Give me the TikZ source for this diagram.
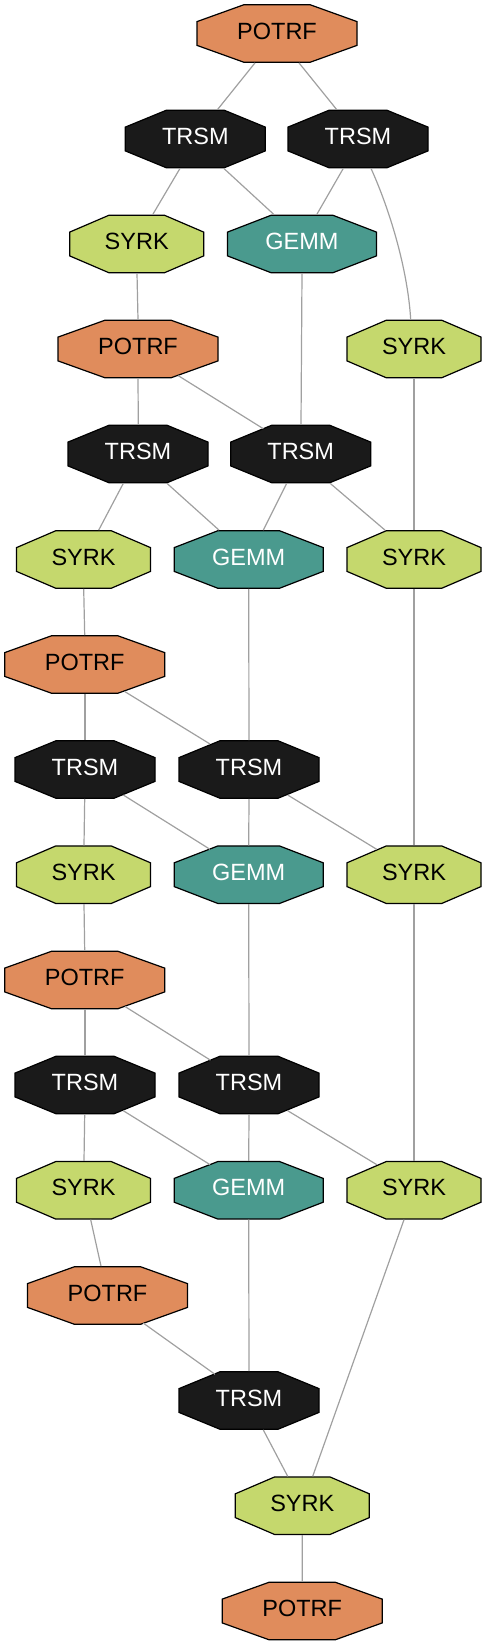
\documentclass[tikz,border=0pt]{standalone}
\usepackage{fontspec}
\setmainfont{Liberation Sans}
\usetikzlibrary{calc}
\definecolor{cpotrf}{HTML}{E08C5C}
\definecolor{csyrk}{HTML}{C5D86D}
\definecolor{cgemm}{HTML}{4A9A8E}
\definecolor{ctrsm}{HTML}{1A1A1A}
\definecolor{cedge}{HTML}{A0A0A0}
\tikzset{
  octline/.style={draw=black, line width=1.2pt, line join=miter},
  lbl/.style={inner sep=0pt, font=\fontsize{23.5}{26}\selectfont},
  edge/.style={draw=cedge, line width=1.2pt},
}
% #1 name, #2 x, #3 y, #4 width, #5 fill, #6 text colour, #7 text
\newcommand\octnode[7]{%
  \path[octline, fill=#5]
    ({#2-#4/2},{#3-11.9}) -- ({#2-0.2071*#4},{#3-28.75}) --
    ({#2+0.2071*#4},{#3-28.75}) -- ({#2+#4/2},{#3-11.9}) --
    ({#2+#4/2},{#3+11.9}) -- ({#2+0.2071*#4},{#3+28.75}) --
    ({#2-0.2071*#4},{#3+28.75}) -- ({#2-#4/2},{#3+11.9}) -- cycle;
  \coordinate (#1) at (#2,#3);
  \node[lbl, text=#6] (#1-t) at (#2,{#3-2.5}) {#7};}
\newcommand\potrf[3]{\octnode{#1}{#2}{#3}{160}{cpotrf}{black}{POTRF}}
\newcommand\trsm[3]{\octnode{#1}{#2}{#3}{140}{ctrsm}{white}{TRSM}}
\newcommand\syrk[3]{\octnode{#1}{#2}{#3}{134}{csyrk}{black}{SYRK}}
\newcommand\gemm[3]{\octnode{#1}{#2}{#3}{149}{cgemm}{white}{GEMM}}
\begin{document}
\begin{tikzpicture}[x=1pt, y=-1pt]
\useasboundingbox (0,0) rectangle (486,1645);
% nodes
\potrf{p0}{277}{33.5}
\trsm{t1a}{195.3}{139}
\trsm{t1b}{358}{139}
\syrk{s2a}{136.7}{244}
\gemm{g2}{302}{244}
\potrf{p3}{138}{349}
\syrk{s3r}{414}{349}
\trsm{t4a}{138}{454}
\trsm{t4b}{300.7}{454}
\syrk{s5a}{83.5}{559.5}
\gemm{g5}{248.7}{559.5}
\syrk{s5r}{414}{559.5}
\potrf{p6}{84.7}{664.5}
\trsm{t7a}{85}{769.5}
\trsm{t7b}{249}{769.5}
\syrk{s8a}{83.5}{874.7}
\gemm{g8}{248.7}{874.7}
\syrk{s8r}{414}{874.7}
\potrf{p9}{84.7}{980}
\trsm{t10a}{85}{1085}
\trsm{t10b}{249}{1085}
\syrk{s11a}{83.5}{1190.3}
\gemm{g11}{248.7}{1190.3}
\syrk{s11r}{414}{1190.3}
\potrf{p12}{107.5}{1295.5}
\trsm{t13}{249}{1400.5}
\syrk{s14}{302.3}{1505.7}
\potrf{p15}{302.2}{1611}
% connectors
\def\hh{29.4}
\path[edge] ($(p0)+(-22,\hh)$) -- ($(t1a)+(22.2,-\hh)$);
\path[edge] ($(p0)+(22,\hh)$) -- ($(t1b)+(-21.3,-\hh)$);
\path[edge] ($(t1a)+(-15.3,\hh)$) -- ($(s2a)+(16,-\hh)$);
\path[edge] ($(t1a)+(28.5,\hh)$) -- ($(g2)+(-28,-\hh)$);
\path[edge] ($(t1b)+(-14.7,\hh)$) -- ($(g2)+(14.7,-\hh)$);
\path[edge] ($(t1b)+(13,\hh)$) .. controls +(19,42) and +(-3,-50) .. ($(s3r)+(-3.3,-\hh)$);
\path[edge] ($(s2a)+(0.3,\hh)$) -- ($(p3)+(0,-\hh)$);
\path[edge] ($(g2)+(0,\hh)$) -- ($(t4b)+(0.3,-\hh)$);
\path[edge] ($(p3)+(0,\hh)$) -- ($(t4a)+(0.3,-\hh)$);
\path[edge] ($(p3)+(40.3,26.7)$) -- ($(t4b)+(-37.4,-25.3)$);
\path[edge] ($(s3r)+(0,\hh)$) -- ($(s5r)+(0,-\hh)$);
\path[edge] ($(t4a)+(-14.7,\hh)$) -- ($(s5a)+(15.2,-\hh)$);
\path[edge] ($(t4a)+(29,\hh)$) -- ($(g5)+(-29.7,-\hh)$);
\path[edge] ($(t4b)+(-14,\hh)$) -- ($(g5)+(14.6,-\hh)$);
\path[edge] ($(t4b)+(29.5,\hh)$) -- ($(s5r)+(-29,-\hh)$);
\path[edge] ($(s5a)+(0.2,\hh)$) -- ($(p6)+(0,-\hh)$);
\path[edge] ($(g5)+(0,\hh)$) -- ($(t7b)+(0,-\hh)$);
\path[edge] ($(s5r)+(0,\hh)$) -- ($(s8r)+(0,-\hh)$);
\path[edge] ($(p6)+(0.3,\hh)$) -- ($(t7a)+(0,-\hh)$);
\path[edge] ($(p6)+(40.3,27.2)$) -- ($(t7b)+(-39,-25.5)$);
\path[edge] ($(t7a)+(-0.3,\hh)$) -- ($(s8a)+(0.5,-\hh)$);
\path[edge] ($(t7a)+(38.3,25.5)$) -- ($(g8)+(-38.7,-25.4)$);
\path[edge] ($(t7b)+(0,\hh)$) -- ($(g8)+(0,-\hh)$);
\path[edge] ($(t7b)+(38.7,25.5)$) -- ($(s8r)+(-37.3,-25.4)$);
\path[edge] ($(s8a)+(0.5,\hh)$) -- ($(p9)+(0,-\hh)$);
\path[edge] ($(g8)+(0,\hh)$) -- ($(t10b)+(0,-\hh)$);
\path[edge] ($(s8r)+(0,\hh)$) -- ($(s11r)+(0,-\hh)$);
\path[edge] ($(p9)+(0.3,\hh)$) -- ($(t10a)+(0,-\hh)$);
\path[edge] ($(p9)+(40.3,26.5)$) -- ($(t10b)+(-38.5,-24.8)$);
\path[edge] ($(t10a)+(-0.3,\hh)$) -- ($(s11a)+(0.5,-\hh)$);
\path[edge] ($(t10a)+(38.3,25.7)$) -- ($(g11)+(-38.7,-25.7)$);
\path[edge] ($(t10b)+(0,\hh)$) -- ($(g11)+(0,-\hh)$);
\path[edge] ($(t10b)+(38.7,25.7)$) -- ($(s11r)+(-37.3,-25.7)$);
\path[edge] ($(s11a)+(7.2,\hh)$) -- ($(p12)+(-6.5,-\hh)$);
\path[edge] ($(g11)+(0,\hh)$) -- ($(t13)+(0,-\hh)$);
\path[edge] ($(s11r)+(-10,\hh)$) -- ($(s14)+(10.4,-\hh)$);
\path[edge] ($(p12)+(35.8,27.6)$) -- ($(t13)+(-34,-26.2)$);
\path[edge] ($(t13)+(14.3,\hh)$) -- ($(s14)+(-14.6,-\hh)$);
\path[edge] ($(s14)+(0,\hh)$) -- ($(p15)+(0,-\hh)$);
\end{tikzpicture}
\end{document}
